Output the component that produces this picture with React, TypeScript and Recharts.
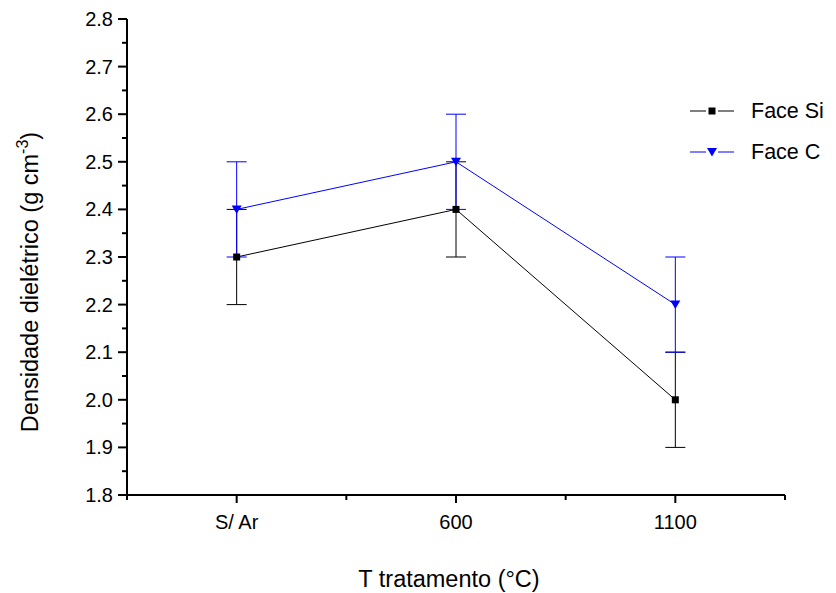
import { LineChart, Line, XAxis, YAxis, ErrorBar } from "recharts";

const categories = ["S/ Ar", "600", "1100"];
const faceSi = [2.3, 2.4, 2.0];
const faceSiErr = [0.1, 0.1, 0.1];
const faceC = [2.4, 2.5, 2.2];
const faceCErr = [0.1, 0.1, 0.1];
const yTicks = [1.8, 1.85, 1.9, 1.95, 2.0, 2.05, 2.1, 2.15, 2.2, 2.25, 2.3, 2.35, 2.4, 2.45, 2.5, 2.55, 2.6, 2.65, 2.7, 2.75, 2.8];
const xTicks = [0.5, 1, 1.5, 2, 2.5, 3, 3.5];

const data = categories.map((c, i) => ({
  x: i + 1,
  name: c,
  si: faceSi[i],
  siErr: faceSiErr[i],
  c: faceC[i],
  cErr: faceCErr[i],
}));

const font = "'Liberation Sans', Arial, sans-serif";

const isMajor = (v: number) => Math.abs(v * 10 - Math.round(v * 10)) < 1e-6;

function YTick({ x, y, payload }: any) {
  const v = payload.value;
  const major = isMajor(v);
  return (
    <g>
      <line x1={x - (major ? 9 : 5)} x2={x} y1={y} y2={y} stroke="#000" strokeWidth={2} />
      {major && (
        <text x={x - 14} y={y} dy={7} textAnchor="end" fontSize={20} fontFamily={font} fill="#000">
          {v.toFixed(1)}
        </text>
      )}
    </g>
  );
}

function XTick({ x, y, payload }: any) {
  const v = payload.value;
  const major = Number.isInteger(v);
  return (
    <g>
      <line x1={x} x2={x} y1={y} y2={y + (major ? 8 : 5)} stroke="#000" strokeWidth={2} />
      {major && (
        <text x={x} y={y + 34} textAnchor="middle" fontSize={20} fontFamily={font} fill="#000">
          {categories[v - 1]}
        </text>
      )}
    </g>
  );
}

function SquareDot({ cx, cy }: any) {
  if (cx == null || cy == null) return null;
  return <rect x={cx - 3.5} y={cy - 3.5} width={7} height={7} fill="#000" />;
}

function TriDot({ cx, cy }: any) {
  if (cx == null || cy == null) return null;
  return <path d={`M${cx - 5},${cy - 4} L${cx + 5},${cy - 4} L${cx},${cy + 4.5} Z`} fill="#0000ff" />;
}

function LegendBox() {
  const rows = [
    { label: "Face Si", color: "#000", tri: false },
    { label: "Face C", color: "#0000ff", tri: true },
  ];
  return (
    <svg width={150} height={90} style={{ display: "block" }}>
      {rows.map((r, i) => {
        const y = 14 + i * 41;
        return (
          <g key={r.label}>
            <line x1={2} x2={18} y1={y} y2={y} stroke={r.color} strokeWidth={1} />
            <line x1={30} x2={46} y1={y} y2={y} stroke={r.color} strokeWidth={1} />
            {r.tri ? (
              <path d={`M${19},${y - 4} L${29},${y - 4} L${24},${y + 4.5} Z`} fill={r.color} />
            ) : (
              <rect x={20.5} y={y - 3.5} width={7} height={7} fill={r.color} />
            )}
            <text x={63} y={y + 7} fontSize={21.5} fontFamily={font} fill="#000">
              {r.label}
            </text>
          </g>
        );
      })}
    </svg>
  );
}

export default function App() {
  return (
    <div style={{ position: "absolute", left: 0, top: 0, width: 836, height: 593, background: "#fff" }}>
      <LineChart width={836} height={593} data={data} margin={{ top: 19, right: 51, left: 67, bottom: 68 }}>
        <XAxis
          dataKey="x"
          type="number"
          domain={[0.5, 3.5]}
          ticks={xTicks}
          interval={0}
          tick={<XTick />}
          tickLine={false}
          tickSize={0}
          tickMargin={0}
          height={30}
          axisLine={{ stroke: "#000", strokeWidth: 2 }}
        />
        <YAxis
          type="number"
          domain={[1.8, 2.8]}
          ticks={yTicks}
          interval={0}
          tick={<YTick />}
          tickLine={false}
          tickSize={0}
          tickMargin={0}
          width={60}
          axisLine={{ stroke: "#000", strokeWidth: 2 }}
        />
        <Line dataKey="si" name="Face Si" stroke="#000" strokeWidth={1} dot={<SquareDot />} activeDot={false} isAnimationActive={false}>
          <ErrorBar dataKey="siErr" width={10} stroke="#000" strokeWidth={1} direction="y" isAnimationActive={false} />
        </Line>
        <Line dataKey="c" name="Face C" stroke="#0000ff" strokeWidth={1} dot={<TriDot />} activeDot={false} isAnimationActive={false}>
          <ErrorBar dataKey="cErr" width={10} stroke="#0000ff" strokeWidth={1} direction="y" isAnimationActive={false} />
        </Line>
        <text x={449} y={587} textAnchor="middle" fontSize={23.5} fontFamily={font} fill="#000">
          T tratamento (°C)
        </text>
        <text transform="translate(38,282) rotate(-90)" textAnchor="middle" fontSize={23.5} fontFamily={font} fill="#000">
          Densidade dielétrico (g cm
          <tspan dy={-10} fontSize={16}>-3</tspan>
          <tspan dy={10}>)</tspan>
        </text>
      </LineChart>
      <div style={{ position: "absolute", left: 688, top: 97 }}>
        <LegendBox />
      </div>
    </div>
  );
}
